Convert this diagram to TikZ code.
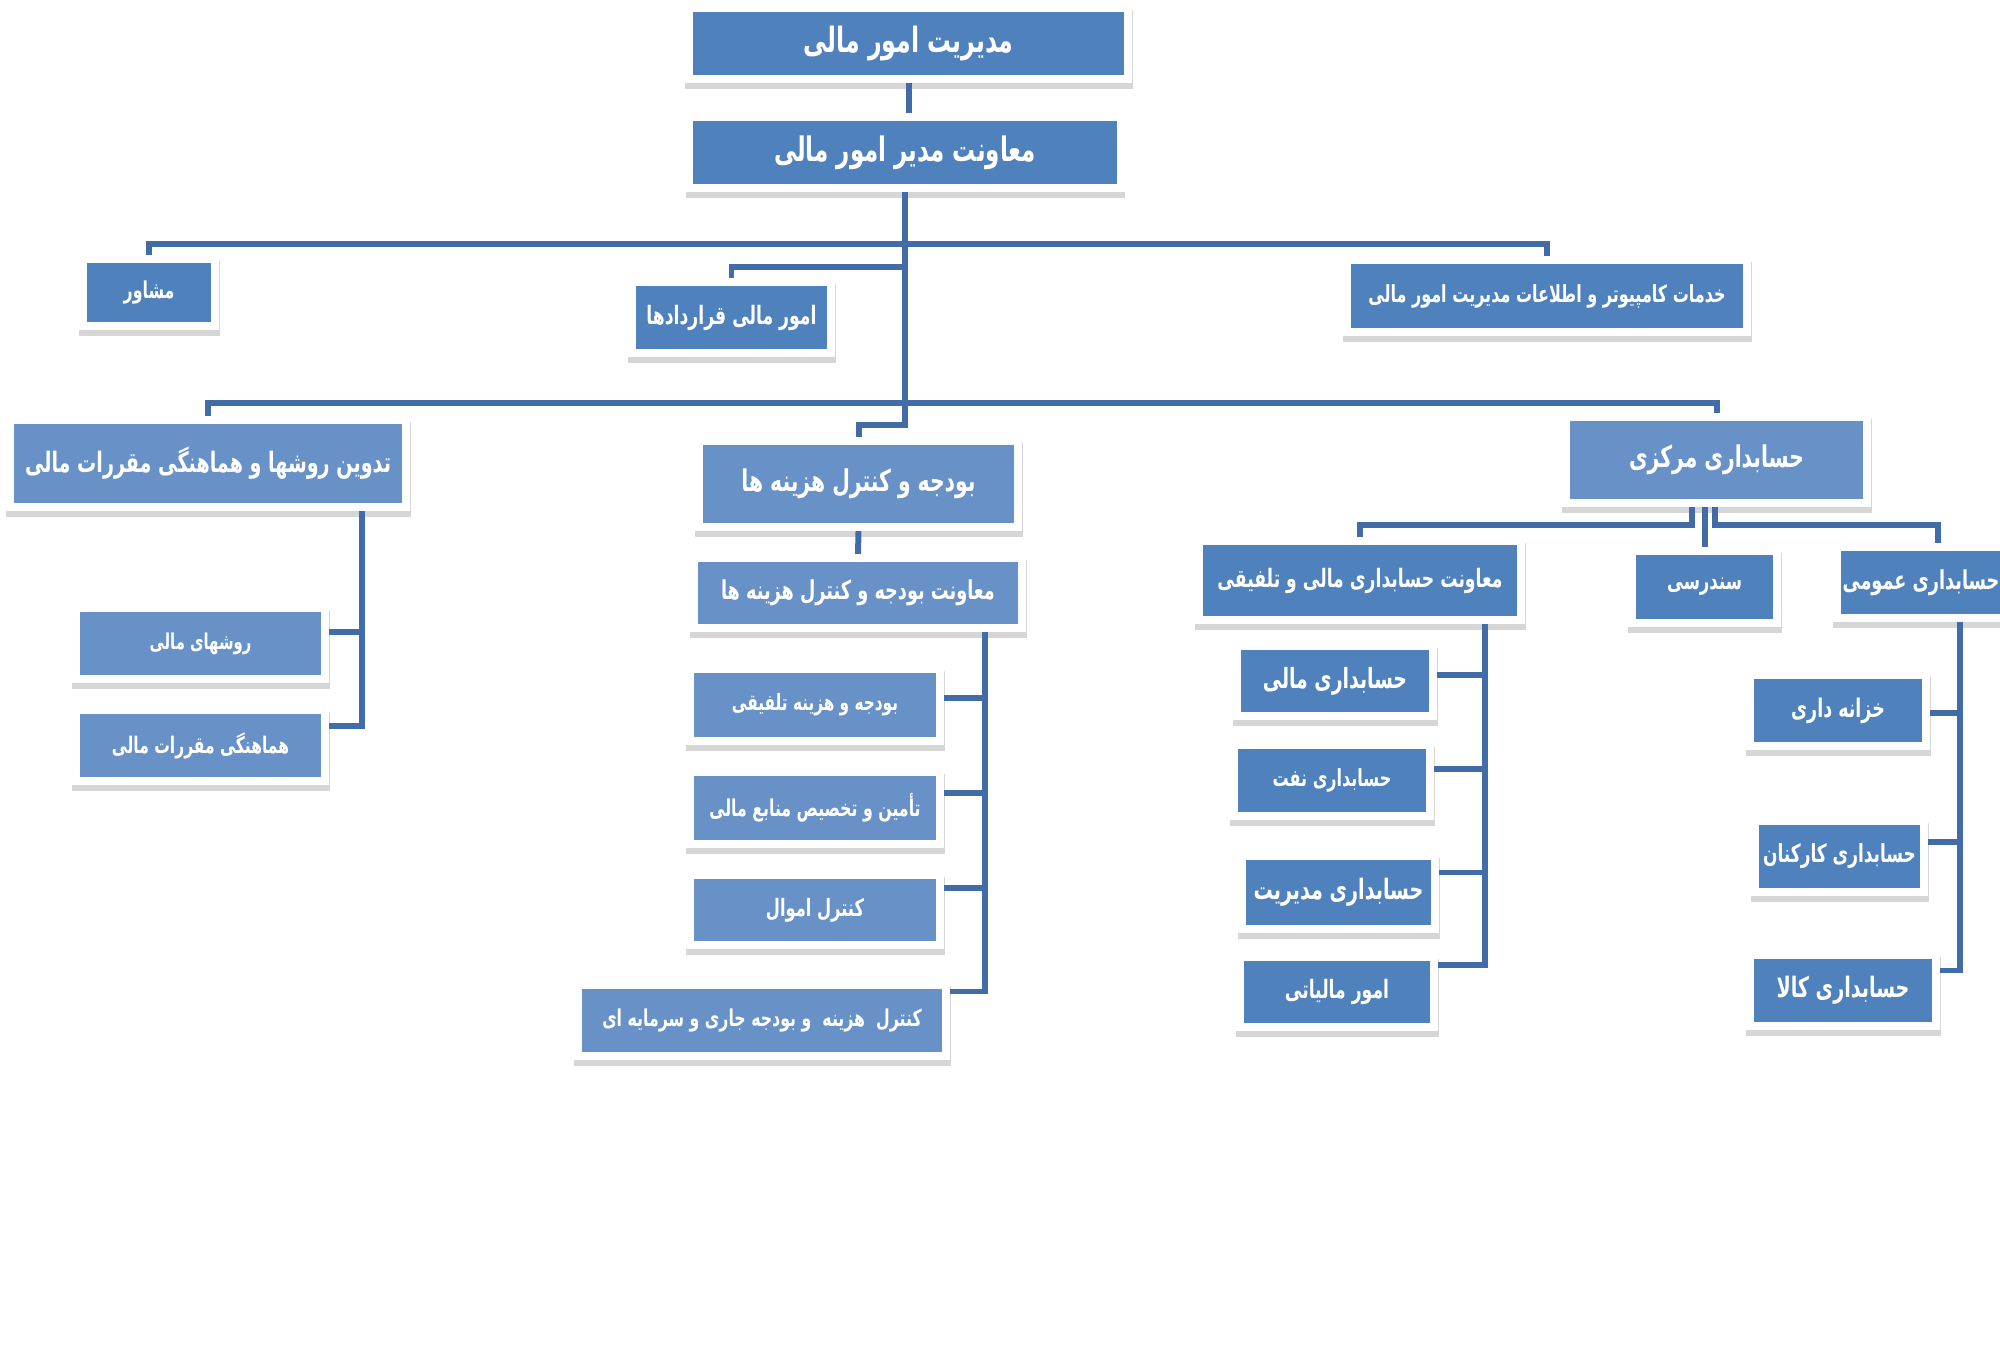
\documentclass[tikz,border=0pt]{standalone}
\usepackage{fontspec}
\usepackage{tikz}
\usetikzlibrary{shadows}
\TeXXeTstate=1
\newfontfamily\farsi[Script=Arabic,FakeStretch=0.68]{DejaVu Sans}
\definecolor{boxdark}{RGB}{79,129,189}
\definecolor{boxlight}{RGB}{103,145,199}
\definecolor{linec}{RGB}{66,108,168}
\tikzset{
  unit/.style={rectangle,draw=white,line width=2.3pt,text=white,inner sep=0pt,
    general shadow={fill=black!16,draw=black!16,shadow xshift=0.15pt,shadow yshift=-1.6pt}},
  sz/.style 2 args={minimum width=#1cm,minimum height=#2cm},
  dk/.style={fill=boxdark},
  lt/.style={fill=boxlight},
  fs/.style={font=\farsi\bfseries\fontsize{#1}{#1}\selectfont},
  conn/.style={draw=linec,line width=1.7pt}
}

\begin{document}
\begin{tikzpicture}[x=0.01cm,y=-0.01cm]
\useasboundingbox (0,0) rectangle (2000,1349);
\node[unit,dk,fs=9.9,sz={4.39}{0.71}] (mdir) at (908.5,43.5) {\beginR مدیریت امور مالی\endR};
\node[unit,dk,fs=9.6,sz={4.31}{0.71}] (moav) at (905,152.5) {\beginR معاونت مدیر امور مالی\endR};
\node[unit,dk,fs=6.6,sz={1.32}{0.67}] (mosh) at (149,292.5) {\beginR مشاور\endR};
\node[unit,dk,fs=7.2,sz={1.99}{0.71}] (gharar) at (731.5,317.5) {\beginR امور مالی قراردادها\endR};
\node[unit,dk,fs=6.7,sz={4.00}{0.72}] (khad) at (1547,296) {\beginR خدمات کامپیوتر و اطلاعات مدیریت امور مالی\endR};
\node[unit,lt,fs=8.0,sz={3.96}{0.87}] (tadv) at (208,463.5) {\beginR تدوین روشها و هماهنگی مقررات مالی\endR};
\node[unit,lt,fs=8.5,sz={3.19}{0.86}] (budj) at (858.5,484) {\beginR بودجه و کنترل هزینه ها\endR};
\node[unit,lt,fs=8.5,sz={3.01}{0.86}] (markaz) at (1716.5,460) {\beginR حسابداری مرکزی\endR};
\node[unit,lt,fs=6.2,sz={2.49}{0.71}] (raves) at (200.5,643.5) {\beginR روشهای مالی\endR};
\node[unit,lt,fs=6.5,sz={2.49}{0.71}] (hamah) at (200.5,745.5) {\beginR هماهنگی مقررات مالی\endR};
\node[unit,lt,fs=7.4,sz={3.28}{0.70}] (mbudj) at (858,593) {\beginR معاونت بودجه و کنترل هزینه ها\endR};
\node[unit,lt,fs=6.4,sz={2.50}{0.72}] (talf) at (815,705) {\beginR بودجه و هزینه تلفیقی\endR};
\node[unit,lt,fs=6.6,sz={2.50}{0.72}] (tamin) at (815,808) {\beginR تأمین و تخصیص منابع مالی\endR};
\node[unit,lt,fs=6.8,sz={2.50}{0.70}] (amval) at (815,910) {\beginR کنترل اموال\endR};
\node[unit,lt,fs=6.6,sz={3.68}{0.71}] (jari) at (762,1020.5) {\beginR کنترل~ هزینه~ و بودجه جاری و سرمایه ای\endR};
\node[unit,dk,fs=7.2,sz={3.22}{0.79}] (mhesab) at (1360,580.5) {\beginR معاونت حسابداری مالی و تلفیقی\endR};
\node[unit,dk,fs=6.9,sz={1.45}{0.72}] (sanad) at (1704.5,587) {\beginR سندرسی\endR};
\node[unit,dk,fs=7.4,sz={1.69}{0.71}] (omumi) at (1921,582.5) {\beginR حسابداری عمومی\endR};
\node[unit,dk,fs=7.9,sz={1.96}{0.70}] (hmali) at (1335,681) {\beginR حسابداری مالی\endR};
\node[unit,dk,fs=6.7,sz={1.96}{0.71}] (naft) at (1332,780.5) {\beginR حسابداری نفت\endR};
\node[unit,dk,fs=8.0,sz={1.93}{0.73}] (hmodir) at (1338.5,892.5) {\beginR حسابداری مدیریت\endR};
\node[unit,dk,fs=7.2,sz={1.94}{0.70}] (maliat) at (1337,992) {\beginR امور مالیاتی\endR};
\node[unit,dk,fs=7.3,sz={1.76}{0.71}] (khazane) at (1838,710.5) {\beginR خزانه داری\endR};
\node[unit,dk,fs=7.1,sz={1.69}{0.71}] (karkonan) at (1839.5,856.5) {\beginR حسابداری کارکنان\endR};
\node[unit,dk,fs=8.0,sz={1.86}{0.71}] (kala) at (1843,990.5) {\beginR حسابداری کالا\endR};

\coordinate (j1) at (905,244);
\coordinate (j2) at (905,267);
\coordinate (j3) at (905,403);
\coordinate (j4) at (905,425);
\coordinate (m1) at (1692,525);
\coordinate (m3) at (1715,525);
\coordinate (s1) at (985,632);
\coordinate (s2) at (362,511);
\coordinate (s3) at (1485,624);
\coordinate (s4) at (1960,622);

\draw[conn] (mdir.south) -- (mdir.south |- moav.north);
\draw[conn] (moav.south) -- (j4) -| (budj.north);
\draw[conn] (mosh.north) |- (j1) -| (khad.north);
\draw[conn] (j2) -| (gharar.north);
\draw[conn] (tadv.north) |- (j3) -| (markaz.north);
\draw[conn] (budj.south) -- (mbudj.north);
\draw[conn] (markaz.south -| m1) -- (m1) -| (mhesab.north);
\draw[conn] (markaz.south -| sanad.north) -- (sanad.north);
\draw[conn] (markaz.south -| m3) -- (m3) -| ([xshift=0.17cm]omumi.north);
\foreach \n/\d in {talf/0.07,tamin/0.15,amval/0.22,jari/0.29}
  \draw[conn] ([yshift=\d cm]\n.east) -| (s1);
\foreach \n/\d in {raves/0.115,hamah/0.195}
  \draw[conn] ([yshift=\d cm]\n.east) -| (s2);
\foreach \n/\d in {hmali/0.06,naft/0.115,hmodir/0.20,maliat/0.27}
  \draw[conn] ([yshift=\d cm]\n.east) -| (s3);
\foreach \n/\d in {khazane/-0.025,karkonan/0.145,kala/0.20}
  \draw[conn] ([yshift=\d cm]\n.east) -| (s4);
\end{tikzpicture}
\end{document}
